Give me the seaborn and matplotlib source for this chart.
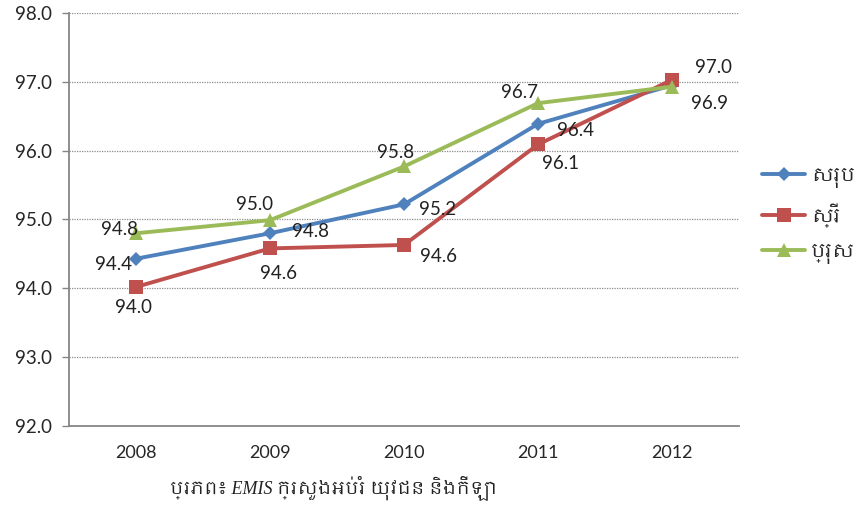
import matplotlib
matplotlib.use("Agg")
import matplotlib.pyplot as plt
from matplotlib import font_manager
import pandas as pd
import seaborn as sns

years = ["2008", "2009", "2010", "2011", "2012"]
series_names = ["សរុប", "ស្រី", "ប្រុស"]
total = [94.43, 94.8, 95.22, 96.39, 96.95]
female = [94.02, 94.58, 94.63, 96.09, 97.03]
male = [94.8, 94.99, 95.77, 96.69, 96.93]
label_text = {
    "សរុប": ["94.4", "94.8", "95.2", "96.4", None],
    "ស្រី": ["94.0", "94.6", "94.6", "96.1", "97.0"],
    "ប្រុស": ["94.8", "95.0", "95.8", "96.7", "96.9"],
}
source_text = "ប្រភព៖ EMIS ក្រសួងអប់រំ យុវជន និងកីឡា"

# data-label offsets in points (style only)
label_offsets = {
    "សរុប": [(-16, -4), (29, 1.5), (24, -4), (27, -5), None],
    "ស្រី": [(-1.5, -15), (6, -18), (25, -8), (16, -14), (30, 9)],
    "ប្រុស": [(-12, 3), (-11, 11), (-6, 10), (-13, 8), (27, -12)],
}
colors = {"សរុប": "#4F81BD", "ស្រី": "#C0504D", "ប្រុស": "#9BBB59"}
markers = {"សរុប": "D", "ស្រី": "s", "ប្រុស": "^"}
msizes = {"សរុប": 7.5, "ស្រី": 10, "ប្រុស": 10.5}

rows = []
for name, vals in zip(series_names, [total, female, male]):
    for y, v in zip(years, vals):
        rows.append({"year": y, "value": v, "series": name})
df = pd.DataFrame(rows)

sns.set_theme(style="white")
base_font = ["Lato", "DejaVu Sans"]
# pick an installed Khmer face if there is one (regular weight preferred)
khmer_all = [f for f in font_manager.fontManager.ttflist if "khmer" in f.name.lower()]
khmer_reg = [f.name for f in khmer_all if f.weight in (400, "normal", "regular") and f.style == "normal"]
khmer = list(dict.fromkeys(khmer_reg + [f.name for f in khmer_all]))[:1]
plt.rcParams["font.family"] = base_font
text_fam = khmer + base_font
source_fam = ["Liberation Serif"] + khmer + ["DejaVu Serif"]

fig = plt.figure(figsize=(8.58, 5.12), dpi=100)
ax = fig.add_axes([0.0804, 0.168, 0.781, 0.8066])

for name in series_names:
    sub = df[df["series"] == name]
    sns.lineplot(data=sub, x="year", y="value", color=colors[name], marker=markers[name],
                 markersize=msizes[name], markeredgewidth=0, linewidth=2.8,
                 sort=False, ax=ax, label=name)

for name, vals in zip(series_names, [total, female, male]):
    for i, (v, t, off) in enumerate(zip(vals, label_text[name], label_offsets[name])):
        if t is None:
            continue
        ax.annotate(t, (i, v), xytext=off, textcoords="offset points",
                    ha="center", va="center", fontsize=13.5, color="#222222")

ax.set_xlim(-0.5, 4.5)
ax.set_ylim(92, 98)
ax.set_yticks([92, 93, 94, 95, 96, 97, 98])
ax.set_yticklabels([f"{v:.1f}" for v in [92, 93, 94, 95, 96, 97, 98]], fontsize=13.5)
ax.set_xticks(range(len(years)))
ax.set_xticklabels(years, fontsize=13)
ax.set_xticks([-0.5, 0.5, 1.5, 2.5, 3.5, 4.5], minor=True)
ax.tick_params(axis="x", which="major", length=0, pad=14)
ax.tick_params(axis="x", which="minor", length=5, color="#868686", width=1)
ax.tick_params(axis="y", which="major", length=5, color="#868686", width=1, pad=7, left=True)
for y in [93, 94, 95, 96, 97, 98]:
    ax.axhline(y, color="#8c8c8c", linestyle=(0, (1, 1)), linewidth=0.9, zorder=0)
ax.set_xlabel("")
ax.set_ylabel("")
for s in ["top", "right"]:
    ax.spines[s].set_visible(False)
for s in ["left", "bottom"]:
    ax.spines[s].set_color("#868686")
    ax.spines[s].set_linewidth(1.3)

handles, labels = ax.get_legend_handles_labels()
leg = ax.legend(handles, labels, loc="center left", bbox_to_anchor=(1.0, 0.51),
                frameon=False, fontsize=14, handlelength=2.2, handletextpad=0.3,
                labelspacing=0.8, borderaxespad=0.8)
for t in leg.get_texts():
    t.set_family(text_fam)

fig.text(0.198, 0.037, source_text, fontsize=13, style="italic",
         family=source_fam, color="#222222")

fig.savefig("out.png", dpi=100)
